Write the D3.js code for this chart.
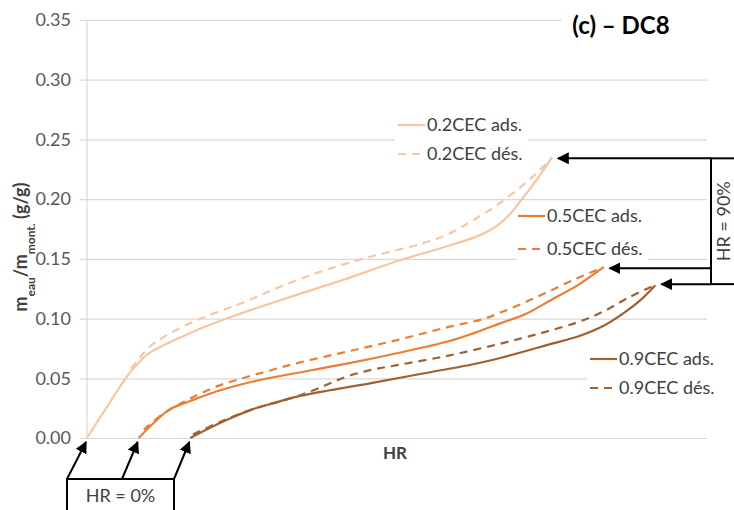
<!DOCTYPE html>
<html><head><meta charset="utf-8">
<script src="https://cdn.jsdelivr.net/npm/d3@7"></script>
<style>
body{margin:0;background:#fff}
svg{display:block}
text{font-family:Lato,"Open Sans",sans-serif}
</style>
</head><body>
<svg id="c" width="734" height="510"></svg>
<script>
// ---- data ----
const seriesLabels = ["0.2CEC", "0.5CEC", "0.9CEC"];
const seriesOffsets = [0, 10, 20]; // HR shift of each pair (curves are staggered)
const hr02Ads = [0,4,8,10,12,15,20,27,35,40,50,60,70,75,78,80,82,84,87,90];
const val02Ads = [0,0.027,0.053,0.063,0.071,0.078,0.088,0.100,0.112,0.119,0.133,0.148,0.161,0.168,0.174,0.180,0.188,0.199,0.216,0.235];
const hr02Des = [8.5,10,12,15,22,30,37,45,55,65,70,75,80,85,88,90];
const val02Des = [0.058,0.066,0.076,0.085,0.100,0.113,0.126,0.139,0.152,0.163,0.171,0.183,0.197,0.214,0.226,0.235];
const hr05Ads = [0,3,6,10,15,20,25,30,40,50,60,65,70,75,80,85,90];
const val05Ads = [0,0.013,0.024,0.031,0.039,0.045,0.050,0.054,0.062,0.071,0.081,0.088,0.096,0.104,0.116,0.128,0.143];
const hr05Des = [1,5,10,15,20,25,30,40,50,60,67,70,75,80,85,90];
const val05Des = [0.007,0.021,0.033,0.043,0.050,0.056,0.062,0.072,0.082,0.093,0.100,0.105,0.114,0.124,0.134,0.143];
const hr09Ads = [0,4,8,12,16,20,27,35,45,55,60,70,75,80,84,87,90];
const val09Ads = [0,0.009,0.017,0.024,0.029,0.034,0.040,0.046,0.054,0.062,0.067,0.079,0.085,0.094,0.105,0.115,0.128];
const hr09Des = [0.5,5,10,15,20,25,30,35,40,50,60,68,75,80,85,90];
const val09Des = [0.003,0.012,0.021,0.028,0.034,0.042,0.051,0.057,0.061,0.069,0.079,0.088,0.097,0.106,0.118,0.128];
const yTicks = [0, 0.05, 0.10, 0.15, 0.20, 0.25, 0.30, 0.35];
const legendLabels = ["0.2CEC ads.", "0.2CEC dés.", "0.5CEC ads.", "0.5CEC dés.", "0.9CEC ads.", "0.9CEC dés."];
const titleText = "(c) – DC8";
const xTitle = "HR";
const hrLowLabel = "HR = 0%";
const hrHighLabel = "HR = 90%";

// ---- setup ----
const svg = d3.select("#c");
const W = 734, H = 510;
const L = 87, R = 707, T = 20, B = 438;
const x = d3.scaleLinear().domain([0, 120]).range([L, R]);
const y = d3.scaleLinear().domain([0, 0.35]).range([B, T]);
const colors = ["#F7C6A2", "#ED7D31", "#A3602F"];
const grid = "#D9D9D9";

svg.append("rect").attr("width", W).attr("height", H).attr("fill", "#fff");

// gridlines + y axis
const ga = svg.append("g").attr("transform", `translate(${L - 7},0)`);
ga.call(d3.axisLeft(y).tickValues(yTicks).tickFormat(d3.format(".2f")).tickSize(-(R - L + 7)).tickPadding(9));
ga.select(".domain").remove();
ga.selectAll(".tick line").attr("stroke", grid).attr("stroke-width", 1.2);
ga.selectAll(".tick text").attr("fill", "#595959").style("font-size", "18px").attr("font-family", "Lato");
// vertical axis line
svg.append("line").attr("x1", L).attr("x2", L).attr("y1", y(0.35)).attr("y2", y(0)).attr("stroke", grid).attr("stroke-width", 1.2);

// white boxes (legends / title) that hide gridlines
const boxes = [[395, 110, 133, 58], [517, 202, 131, 64], [587, 346, 140, 58], [562, 4, 152, 38]];
svg.selectAll("rect.bg").data(boxes).join("rect").attr("class", "bg")
  .attr("x", d => d[0]).attr("y", d => d[1]).attr("width", d => d[2]).attr("height", d => d[3]).attr("fill", "#fff");

// curves
const series = [
  {hr: hr02Ads, v: val02Ads, i: 0, dash: false},
  {hr: hr02Des, v: val02Des, i: 0, dash: true},
  {hr: hr05Ads, v: val05Ads, i: 1, dash: false},
  {hr: hr05Des, v: val05Des, i: 1, dash: true},
  {hr: hr09Ads, v: val09Ads, i: 2, dash: false},
  {hr: hr09Des, v: val09Des, i: 2, dash: true},
];
const line = d3.line().x(d => x(d[0])).y(d => y(d[1])).curve(d3.curveCatmullRom.alpha(0.5));
series.forEach(s => {
  const pts = s.hr.map((h, k) => [h + seriesOffsets[s.i], s.v[k]]);
  svg.append("path").attr("d", line(pts)).attr("fill", "none")
    .attr("stroke", colors[s.i]).attr("stroke-width", 2.2)
    .attr("stroke-dasharray", s.dash ? "8,6" : null).attr("stroke-linecap", "butt");
});

// legends
const legendPos = [[398, 125], [398, 154], [518, 216], [518, 249], [590, 359], [590, 388]];
legendLabels.forEach((lab, k) => {
  const [lx, ly] = legendPos[k];
  const ci = Math.floor(k / 2);
  svg.append("line").attr("x1", lx).attr("x2", lx + 27).attr("y1", ly).attr("y2", ly)
    .attr("stroke", colors[ci]).attr("stroke-width", 2.2).attr("stroke-dasharray", k % 2 ? "8,6" : null);
  svg.append("text").attr("x", lx + 29).attr("y", ly).attr("dy", "0.35em")
    .attr("fill", "#404040").style("font-size", "18px").text(lab);
});

// title
svg.append("text").attr("x", 621).attr("y", 26).attr("dy", "0.35em").attr("text-anchor", "middle")
  .style("font-size", "24px").style("font-weight", "bold").attr("fill", "#000").text(titleText);

// x axis title
svg.append("text").attr("x", 395).attr("y", 453).attr("dy", "0.35em").attr("text-anchor", "middle")
  .style("font-size", "17px").style("font-weight", "bold").attr("fill", "#404040").text(xTitle);

// y axis title
const yt = svg.append("text").attr("transform", "translate(27,247) rotate(-90)").attr("text-anchor", "middle")
  .style("font-size", "18px").style("font-weight", "bold").attr("fill", "#404040");
yt.append("tspan").text("m");
yt.append("tspan").attr("baseline-shift", "sub").style("font-size", "12px").text("eau");
yt.append("tspan").text("/m");
yt.append("tspan").attr("baseline-shift", "sub").style("font-size", "12px").text("mont.");
yt.append("tspan").text(" (g/g)");

// annotations
const defs = svg.append("defs");
defs.append("marker").attr("id", "ah").attr("viewBox", "0 0 10 10").attr("refX", 9).attr("refY", 5)
  .attr("markerWidth", 6).attr("markerHeight", 6).attr("orient", "auto-start-reverse")
  .append("path").attr("d", "M0,0 L10,5 L0,10 z").attr("fill", "#000");

// HR = 0% box and arrows
const b0 = {x: 67, y: 479, w: 107, h: 40};
svg.append("rect").attr("x", b0.x).attr("y", b0.y).attr("width", b0.w).attr("height", b0.h)
  .attr("fill", "#fff").attr("stroke", "#000").attr("stroke-width", 2);
svg.append("text").attr("x", b0.x + b0.w / 2).attr("y", 496).attr("dy", "0.35em").attr("text-anchor", "middle")
  .style("font-size", "18px").attr("fill", "#404040").text(hrLowLabel);
const fromX0 = [b0.x, b0.x + 55, b0.x + b0.w];
seriesOffsets.forEach((o, k) => {
  svg.append("line").attr("x1", fromX0[k]).attr("y1", b0.y).attr("x2", x(o) - 1).attr("y2", y(0) + 4)
    .attr("stroke", "#000").attr("stroke-width", 2).attr("marker-end", "url(#ah)");
});

// HR = 90% box and arrows
const ends = [[90 + seriesOffsets[0], val02Ads[val02Ads.length - 1]], [90 + seriesOffsets[1], val05Ads[val05Ads.length - 1]], [90 + seriesOffsets[2], val09Ads[val09Ads.length - 1]]];
const bx = 711;
const by0 = y(ends[0][1]) + 1, by1 = y(ends[2][1]) - 1;
svg.append("rect").attr("x", bx).attr("y", by0).attr("width", 40).attr("height", by1 - by0)
  .attr("fill", "#fff").attr("stroke", "#000").attr("stroke-width", 2);
svg.append("text").attr("transform", `translate(724,${(by0 + by1) / 2}) rotate(-90)`).attr("dy", "0.35em")
  .attr("text-anchor", "middle").style("font-size", "18px").attr("fill", "#404040").text(hrHighLabel);
ends.forEach((e, k) => {
  const yy = k === 0 ? by0 : (k === 2 ? by1 : y(e[1]) + 1);
  svg.append("line").attr("x1", bx).attr("y1", yy).attr("x2", x(e[0]) + 6).attr("y2", yy)
    .attr("stroke", "#000").attr("stroke-width", 2).attr("marker-end", "url(#ah)");
});
</script>
</body></html>
